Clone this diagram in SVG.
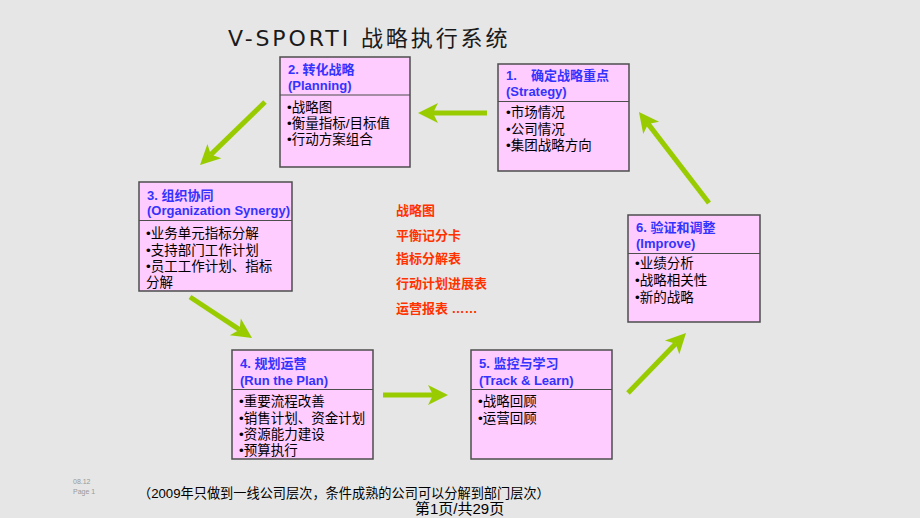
<svg xmlns="http://www.w3.org/2000/svg" width="920" height="518" viewBox="0 0 920 518">
<style>
.bg{fill:#e6e6e6}
.box{fill:#ffccff;stroke:#4d4d4d;stroke-width:1.5}
.div{stroke:#4d4d4d;stroke-width:1.2}
.hd{font-family:"Liberation Sans","Noto Sans CJK SC",sans-serif;font-size:13px;font-weight:bold;fill:#3333ff}
.bd{font-family:"Liberation Sans","Noto Sans CJK SC",sans-serif;font-size:13.5px;fill:#000}
.red{font-family:"Liberation Sans","Noto Sans CJK SC",sans-serif;font-size:13px;font-weight:bold;fill:#ff3300}
.title{font-family:"DejaVu Sans","Noto Sans CJK SC",sans-serif;font-size:22px;letter-spacing:2.9px;fill:#1a1a1a}
.arr{stroke:#99cc00;stroke-width:5;fill:none;marker-end:url(#ah)}
.foot{font-family:"Liberation Sans","Noto Sans CJK SC",sans-serif;fill:#000}
.tiny{font-family:"Liberation Sans",sans-serif;font-size:7px;fill:#999}
</style>
<defs>
<marker id="ah" markerUnits="userSpaceOnUse" markerWidth="22" markerHeight="22" viewBox="0 -11 22 22" refX="5" refY="0" orient="auto" overflow="visible">
<path d="M0,-10 L20,0 L0,10 L5,0 Z" fill="#99cc00"/>
</marker>
</defs>
<rect class="bg" x="0" y="0" width="920" height="518"/>
<text class="title" x="228" y="46">V-SPORTI 战略执行系统</text>

<g id="connectors">
<line class="arr" x1="487" y1="113" x2="433" y2="113"/>
<line class="arr" x1="265" y1="102" x2="210.8" y2="154.6"/>
<line class="arr" x1="190" y1="297" x2="239.5" y2="329.7"/>
<line class="arr" x1="383" y1="395" x2="433" y2="395"/>
<line class="arr" x1="628" y1="393" x2="675.6" y2="343.8"/>
<line class="arr" x1="709" y1="203" x2="648.1" y2="123.9"/>
</g>

<g id="node1">
<rect class="box" x="498" y="64" width="131" height="107"/>
<line class="div" x1="498" y1="101.5" x2="629" y2="101.5"/>
<text class="hd" x="506" y="79.5">1.<tspan x="531">确定战略重点</tspan></text>
<text class="hd" x="506" y="96">(Strategy)</text>
<text class="bd" x="506" y="117">•市场情况</text>
<text class="bd" x="506" y="133.5">•公司情况</text>
<text class="bd" x="506" y="150">•集团战略方向</text>
</g>

<g id="node2">
<rect class="box" x="280" y="57" width="130" height="110"/>
<line class="div" x1="280" y1="95" x2="410" y2="95"/>
<text class="hd" x="288" y="73.5">2. 转化战略</text>
<text class="hd" x="288" y="90">(Planning)</text>
<text class="bd" x="287" y="111.5">•战略图</text>
<text class="bd" x="287" y="127.5">•衡量指标/目标值</text>
<text class="bd" x="287" y="143.5">•行动方案组合</text>
</g>

<g id="node3">
<rect class="box" x="139" y="182" width="153" height="109"/>
<line class="div" x1="139" y1="220.5" x2="292" y2="220.5"/>
<text class="hd" x="147" y="200">3. 组织协同</text>
<text class="hd" x="147" y="215">(Organization Synergy)</text>
<text class="bd" x="146" y="238">•业务单元指标分解</text>
<text class="bd" x="146" y="254.5">•支持部门工作计划</text>
<text class="bd" x="146" y="271">•员工工作计划、指标</text>
<text class="bd" x="146" y="286.5">分解</text>
</g>

<g id="node4">
<rect class="box" x="232" y="350" width="141" height="109"/>
<line class="div" x1="232" y1="389.5" x2="373" y2="389.5"/>
<text class="hd" x="240" y="368">4. 规划运营</text>
<text class="hd" x="240" y="384.5">(Run the Plan)</text>
<text class="bd" x="239" y="406">•重要流程改善</text>
<text class="bd" x="239" y="422.5">•销售计划、资金计划</text>
<text class="bd" x="239" y="439">•资源能力建设</text>
<text class="bd" x="239" y="454.5">•预算执行</text>
</g>

<g id="node5">
<rect class="box" x="471" y="350" width="141" height="109"/>
<line class="div" x1="471" y1="389.5" x2="612" y2="389.5"/>
<text class="hd" x="479" y="368">5. 监控与学习</text>
<text class="hd" x="479" y="384.5">(Track &amp; Learn)</text>
<text class="bd" x="478" y="406">•战略回顾</text>
<text class="bd" x="478" y="422.5">•运营回顾</text>
</g>

<g id="node6">
<rect class="box" x="628" y="215" width="132" height="107"/>
<line class="div" x1="628" y1="253.5" x2="760" y2="253.5"/>
<text class="hd" x="636" y="231.5">6. 验证和调整</text>
<text class="hd" x="636" y="248">(Improve)</text>
<text class="bd" x="635" y="268">•业绩分析</text>
<text class="bd" x="635" y="285">•战略相关性</text>
<text class="bd" x="635" y="302">•新的战略</text>
</g>

<g id="tools">
<text class="red" x="396" y="215">战略图</text>
<text class="red" x="396" y="240">平衡记分卡</text>
<text class="red" x="396" y="263">指标分解表</text>
<text class="red" x="396" y="288">行动计划进展表</text>
<text class="red" x="396" y="313">运营报表 ……</text>
</g>

<text class="tiny" x="73" y="484">08.12</text>
<text class="tiny" x="73" y="494">Page 1</text>
<text class="foot" x="138" y="498" font-size="13.2">（2009年只做到一线公司层次，条件成熟的公司可以分解到部门层次）</text>
<text class="foot" x="415" y="514" font-size="15">第1页/共29页</text>
</svg>
